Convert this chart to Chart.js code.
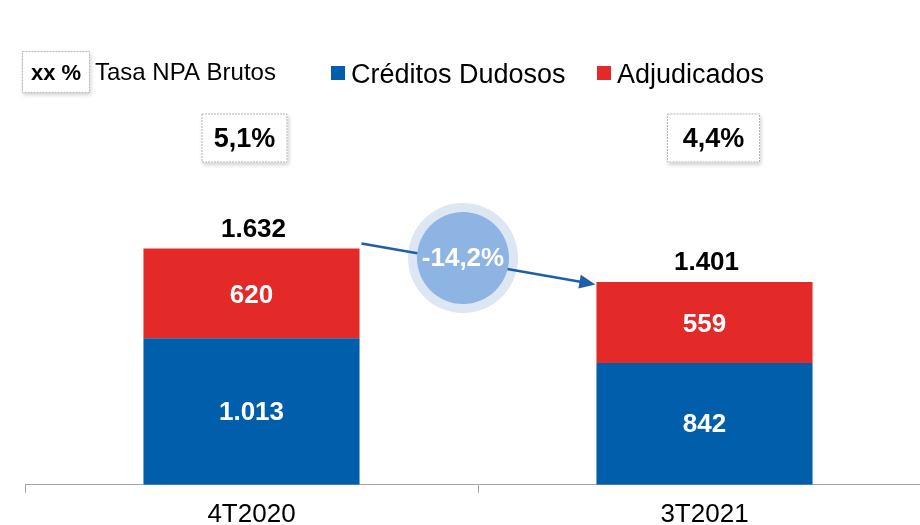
<!DOCTYPE html>
<html>
<head>
<meta charset="utf-8">
<script src="https://cdn.jsdelivr.net/npm/chart.js@4.4.1/dist/chart.umd.min.js"></script>
<style>
  html, body { margin: 0; padding: 0; background: #fff; }
  #wrap { width: 920px; height: 525px; overflow: hidden; position: relative; }
</style>
</head>
<body>
<div id="wrap"><canvas id="npaChart" width="940" height="536"></canvas></div>
<script>
// data
var periods = ['4T2020', '3T2021'];
var dudosos = [1013, 842];
var adjudicados = [620, 559];
var totals = ['1.632', '1.401'];
var dudososLabels = ['1.013', '842'];
var adjudicadosLabels = ['620', '559'];
var npaRates = ['5,1%', '4,4%'];
var variation = '-14,2%';

var BLUE = '#005eaa';
var RED = '#e42a28';
var FONT = 'Arial, "Liberation Sans", sans-serif';

function dashedBox(ctx, cx, cy, w, h) {
    ctx.save();
    ctx.shadowColor = 'rgba(0,0,0,0.18)';
    ctx.shadowBlur = 4;
    ctx.shadowOffsetX = 1;
    ctx.shadowOffsetY = 2;
    ctx.fillStyle = '#fff';
    ctx.fillRect(cx - w / 2, cy - h / 2, w, h);
    ctx.restore();
    ctx.save();
    ctx.strokeStyle = '#b5b5b5';
    ctx.lineWidth = 1;
    ctx.setLineDash([2, 1]);
    ctx.strokeRect(cx - w / 2 + 0.5, cy - h / 2 + 0.5, w - 1, h - 1);
    ctx.restore();
}

// draws legend, rate boxes, value labels and the variation bubble
var decorations = {
    id: 'decorations',
    afterDatasetsDraw: function (chart) {
        var ctx = chart.ctx;
        var blueBars = chart.getDatasetMeta(0).data;
        var redBars = chart.getDatasetMeta(1).data;

        ctx.save();
        ctx.textAlign = 'center';
        ctx.textBaseline = 'middle';

        // values inside and above the bars
        for (var i = 0; i < periods.length; i++) {
            var b = blueBars[i], r = redBars[i];
            ctx.fillStyle = '#fff';
            ctx.font = 'bold 26px ' + FONT;
            ctx.fillText(dudososLabels[i], b.x, (b.y + b.base) / 2 + 1);
            ctx.fillText(adjudicadosLabels[i], r.x, (r.y + r.base) / 2 + 2);
            ctx.fillStyle = '#000';
            ctx.fillText(totals[i], r.x + 2, r.y - 19);
        }

        // rate boxes
        var boxX = [blueBars[0].x - 7, blueBars[1].x + 9];
        var boxW = [86, 93];
        for (var j = 0; j < npaRates.length; j++) {
            dashedBox(ctx, boxX[j], 138, boxW[j], 49);
            ctx.fillStyle = '#000';
            ctx.font = 'bold 27px ' + FONT;
            ctx.fillText(npaRates[j], boxX[j], 140);
        }

        // arrow between the bar tops with the variation bubble
        var x1 = redBars[0].x + redBars[0].width / 2 + 2, y1 = redBars[0].y - 5;
        var x2 = redBars[1].x - redBars[1].width / 2 - 9, y2 = redBars[1].y + 1;
        var cx = 463, cy = 258;
        ctx.beginPath();
        ctx.arc(cx, cy, 55, 0, Math.PI * 2);
        ctx.fillStyle = '#dde6f3';
        ctx.fill();

        ctx.strokeStyle = '#1f5fa9';
        ctx.lineWidth = 2.5;
        ctx.beginPath();
        ctx.moveTo(x1, y1);
        ctx.lineTo(x2, y2);
        ctx.stroke();
        var ang = Math.atan2(y2 - y1, x2 - x1);
        ctx.beginPath();
        ctx.moveTo(x2 + 8 * Math.cos(ang), y2 + 8 * Math.sin(ang));
        ctx.lineTo(x2 - 8 * Math.cos(ang) + 7 * Math.sin(ang), y2 - 8 * Math.sin(ang) - 7 * Math.cos(ang));
        ctx.lineTo(x2 - 8 * Math.cos(ang) - 7 * Math.sin(ang), y2 - 8 * Math.sin(ang) + 7 * Math.cos(ang));
        ctx.closePath();
        ctx.fillStyle = '#1f5fa9';
        ctx.fill();

        ctx.beginPath();
        ctx.arc(cx, cy, 46, 0, Math.PI * 2);
        ctx.fillStyle = '#8eb4e3';
        ctx.fill();
        ctx.fillStyle = '#fff';
        ctx.font = 'bold 26px ' + FONT;
        ctx.fillText(variation, cx, cy + 1);

        // legend
        dashedBox(ctx, 56, 72, 68, 42);
        ctx.fillStyle = '#000';
        ctx.font = 'bold 22px ' + FONT;
        ctx.fillText('xx %', 56, 74);
        ctx.textAlign = 'left';
        ctx.textBaseline = 'alphabetic';
        ctx.font = '24px ' + FONT;
        ctx.fillText('Tasa NPA Brutos', 95, 80);

        ctx.fillStyle = BLUE;
        ctx.fillRect(331, 66, 14, 14);
        ctx.fillStyle = '#000';
        ctx.font = '27px ' + FONT;
        ctx.fillText(chart.data.datasets[0].label, 351, 83);
        ctx.fillStyle = RED;
        ctx.fillRect(597, 66, 14, 14);
        ctx.fillStyle = '#000';
        ctx.fillText(chart.data.datasets[1].label, 617, 83);
        ctx.restore();
    }
};

var ctx = document.getElementById('npaChart').getContext('2d');
var chart = new Chart(ctx, {
    type: 'bar',
    data: {
        labels: periods,
        datasets: [{
            label: 'Créditos Dudosos',
            data: dudosos,
            backgroundColor: BLUE,
            barPercentage: 0.477,
            categoryPercentage: 1
        }, {
            label: 'Adjudicados',
            data: adjudicados,
            backgroundColor: RED,
            barPercentage: 0.477,
            categoryPercentage: 1
        }]
    },
    options: {
        responsive: false,
        animation: false,
        layout: { padding: { left: 25, right: 9, top: 123, bottom: 0 } },
        scales: {
            x: {
                stacked: true,
                offset: true,
                grid: {
                    offset: true,
                    drawOnChartArea: false,
                    drawTicks: true,
                    tickLength: 8,
                    color: '#a6a6a6'
                },
                border: { display: true, color: '#a6a6a6' },
                ticks: {
                    color: '#000',
                    font: { family: FONT, size: 26 },
                    padding: 6
                }
            },
            y: {
                stacked: true,
                display: false,
                min: 0,
                max: 2500
            }
        },
        plugins: {
            legend: { display: false },
            tooltip: { enabled: false }
        }
    },
    plugins: [decorations]
});
</script>
</body>
</html>
